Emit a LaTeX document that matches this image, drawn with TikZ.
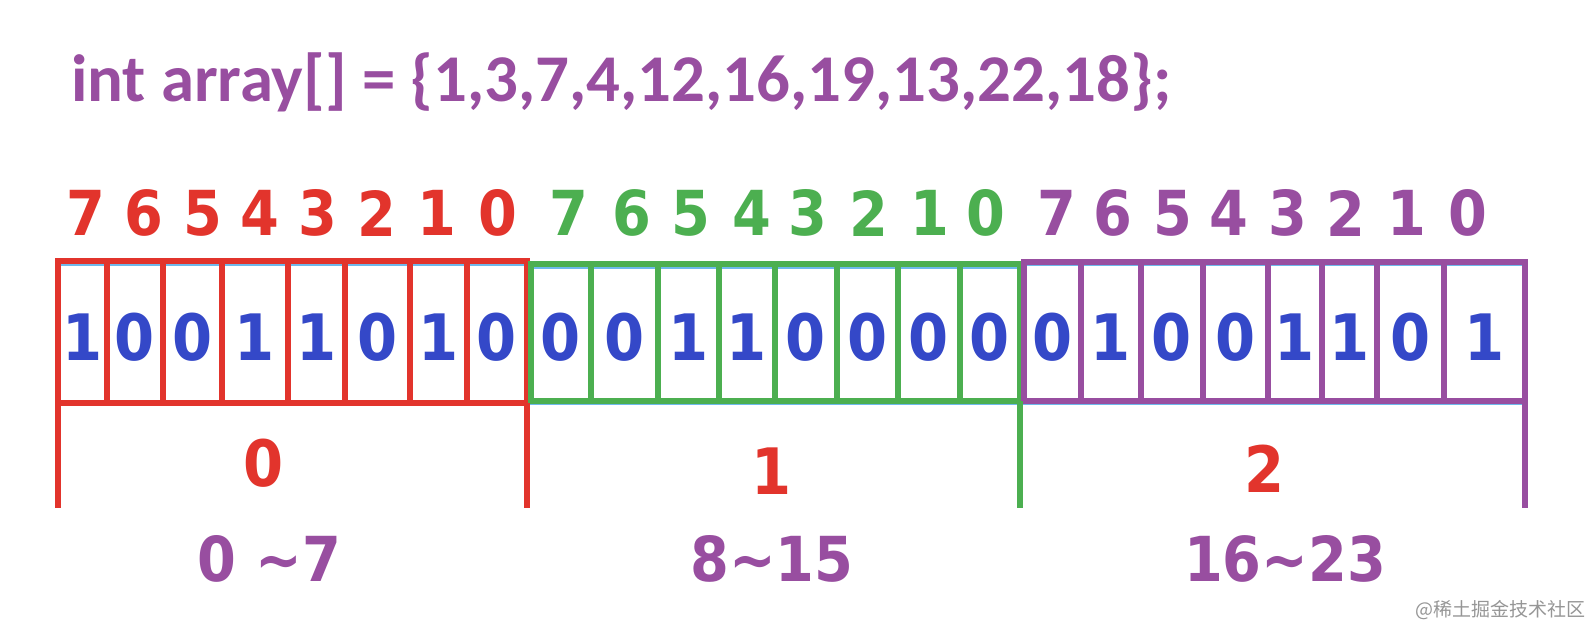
\documentclass[tikz,border=0pt]{standalone}
\usepackage{fontspec}
\setmainfont{DejaVu Sans}
\newfontfamily\titlefont{Carlito}
\IfFontExistsTF{DejaVu Sans Condensed}{\newfontfamily\digitfont{DejaVu Sans Condensed}}{\newfontfamily\digitfont{DejaVu Sans}[FakeStretch=0.88]}
\newfontfamily\cjkfont{Noto Sans CJK SC}
\definecolor{cred}{RGB}{226,52,44}
\definecolor{cgreen}{RGB}{76,175,80}
\definecolor{cpurple}{RGB}{152,78,160}
\definecolor{cblue}{RGB}{52,72,200}
\definecolor{clight}{RGB}{110,185,235}
\definecolor{cgrey}{RGB}{150,150,150}
\tikzset{
  idxlabel/.style={font=\digitfont\bfseries\fontsize{62}{62}\selectfont, inner sep=0pt, anchor=center},
  bitlabel/.style={font=\digitfont\bfseries\fontsize{64}{64}\selectfont, text=cblue, inner sep=0pt, anchor=center},
  grplabel/.style={font=\digitfont\bfseries\fontsize{64}{64}\selectfont, text=cred, inner sep=0pt, anchor=center},
  rnglabel/.style={font=\digitfont\bfseries\fontsize{62}{62}\selectfont, text=cpurple, inner sep=0pt, anchor=center},
  cellbox/.style={draw=clight, line width=2pt},
  grpline/.style={line width=6pt, line cap=rect},
}
\begin{document}
\begin{tikzpicture}[x=1pt,y=-1pt]
\useasboundingbox[fill=white] (0,0) rectangle (1593,626);
% title
\node[font=\titlefont\bfseries\fontsize{66.8}{66.8}\selectfont, text=cpurple, anchor=base west, inner sep=0pt] (title) at (71,102) {int array[] = \{1,3,7,4,12,16,19,13,22,18\};};
% bit indices
\foreach \x [count=\i from 0] in {86,144,203,260,318,377,437,498}
  {\pgfmathtruncatemacro\d{7-\i}\node[idxlabel, text=cred] (ir\i) at (\x,213) {\d};}
\foreach \x [count=\i from 0] in {569,632,691,752,808,869,930,986}
  {\pgfmathtruncatemacro\d{7-\i}\node[idxlabel, text=cgreen] (ig\i) at (\x,213) {\d};}
\foreach \x [count=\i from 0] in {1057,1113,1173,1229,1288,1346,1407,1468}
  {\pgfmathtruncatemacro\d{7-\i}\node[idxlabel, text=cpurple] (ip\i) at (\x,213) {\d};}
% red group cells
\foreach \a/\b/\v [count=\i] in {58/107/1,107/163/0,163/222/0,222/288/1,288/345/1,345/410/0,410/467/1,467/527/0}{
  \draw[cellbox] (\a,265) rectangle (\b,401);
  \node[bitlabel] (br\i) at ({(\a+\b)/2},337) {\v};
}
\draw[grpline, cred] (58,261) rectangle (527,403);
\foreach \x in {107,163,222,288,345,410,467} \draw[grpline, cred, line cap=butt] (\x,261) -- (\x,403);
% green group cells
\foreach \a/\b/\v [count=\i] in {531/591/0,591/658/0,658/719/1,719/775/1,775/837/0,837/898/0,898/960/0,960/1020/0}{
  \draw[cellbox] (\a,268) rectangle (\b,404);
  \node[bitlabel] (bg\i) at ({(\a+\b)/2},337) {\v};
}
\draw[grpline, cgreen] (531,264) rectangle (1020,401);
\foreach \x in {591,658,719,775,837,898,960} \draw[grpline, cgreen, line cap=butt] (\x,264) -- (\x,401);
% purple group cells
\foreach \a/\b/\v [count=\i] in {1024/1081/0,1081/1141/1,1141/1203/0,1203/1268/0,1268/1322/1,1322/1377/1,1377/1444/0,1444/1525/1}{
  \draw[cellbox] (\a,265) rectangle (\b,404);
  \node[bitlabel] (bp\i) at ({(\a+\b)/2},337) {\v};
}
\draw[grpline, cpurple] (1024,262) rectangle (1525,401);
\foreach \x in {1081,1141,1203,1268,1322,1377,1444} \draw[grpline, cpurple, line cap=butt] (\x,262) -- (\x,401);
% brackets
\coordinate (r0t) at (58,403); \coordinate (r0b) at (58,508);
\coordinate (r1t) at (527,403); \coordinate (r1b) at (527,508);
\coordinate (g1t) at (1020,401); \coordinate (g1b) at (1020,508);
\coordinate (p1t) at (1525,401); \coordinate (p1b) at (1525,508);
\draw[line width=6pt, cred] (r0t) -- (r0b);
\draw[line width=6pt, cred] (r1t) -- (r1b);
\draw[line width=6pt, cgreen] (g1t) -- (g1b);
\draw[line width=6pt, cpurple] (p1t) -- (p1b);
% group labels
\node[grplabel] (n0) at (264,463) {0};
\node[grplabel] (n1) at (772,471) {1};
\node[grplabel] (n2) at (1265,469) {2};
% ranges
\node[rnglabel] (rg0) at (269,559) {0 \textasciitilde7};
\node[rnglabel] (rg1) at (772,559) {8\textasciitilde15};
\node[rnglabel] (rg2) at (1285,559) {16\textasciitilde23};
% watermark
\node[font=\cjkfont\fontsize{19}{19}\selectfont, text=cgrey, anchor=east, inner sep=0pt] (wm) at (1586,610) {@稀土掘金技术社区};
\end{tikzpicture}
\end{document}
